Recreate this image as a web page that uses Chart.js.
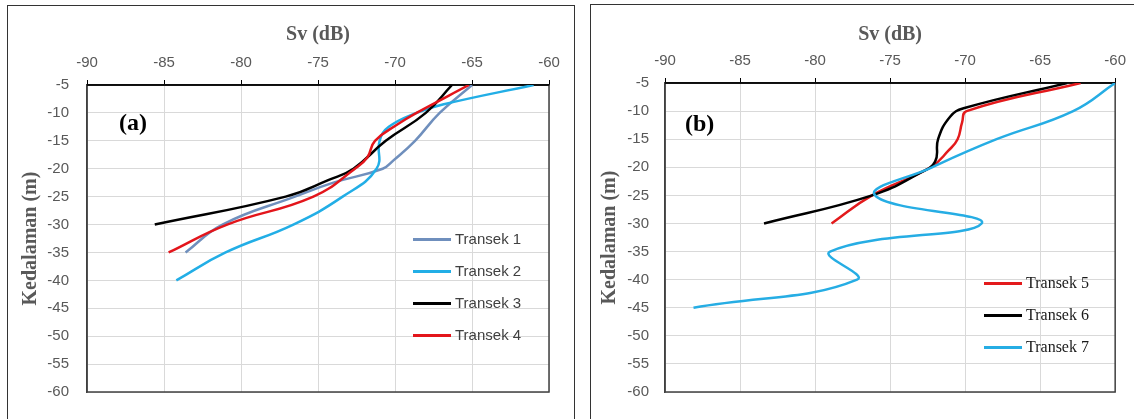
<!DOCTYPE html>
<html>
<head>
<meta charset="utf-8">
<script src="https://cdn.jsdelivr.net/npm/chart.js@4.4.1/dist/chart.umd.min.js"></script>
<style>
body { margin: 0; width: 1134px; height: 419px; overflow: hidden; background: #fff; position: relative; }
.panel { position: absolute; border: 1.5px solid #333; box-sizing: border-box; background: #fff; }
canvas { position: absolute; }
.tag { position: absolute; font-family: 'Liberation Serif', 'Times New Roman', serif; font-weight: bold; font-size: 24px; color: #000; line-height: 24px; }
.leg { position: absolute; height: 20px; line-height: 20px; white-space: nowrap; }
.leg span.ln { position: absolute; left: 0; top: 9px; width: 38px; height: 2.5px; }
.leg span.tx { position: absolute; left: 42px; top: 0; }
.legA { font-family: 'Liberation Sans', Arial, sans-serif; font-size: 15px; color: #404040; }
.legB { font-family: 'Liberation Serif', 'Times New Roman', serif; font-size: 16px; color: #1a1a1a; }
</style>
</head>
<body>
<div class="panel" style="left:7px; top:5px; width:568px; height:440px;"></div>
<div class="panel" style="left:590px; top:4px; width:560px; height:440px;"></div>
<canvas id="chartA" width="564" height="413" style="left:8px; top:6px;"></canvas>
<canvas id="chartB" width="543" height="414" style="left:591px; top:5px;"></canvas>
<div class="tag" style="left:119px; top:110px;">(a)</div>
<div class="tag" style="left:685px; top:111px;">(b)</div>
<div id="legendA"></div>
<div id="legendB"></div>
<script>
// depth ticks (m) and Sv ticks (dB)
var depthTicks = [-5, -10, -15, -20, -25, -30, -35, -40, -45, -50, -55, -60];
var svTicks = [-90, -85, -80, -75, -70, -65, -60];

// panel (a)
var depth1 = [-5, -10, -15, -18.5, -20, -22.5, -25, -30, -35];
var sv1 = [-65.0, -67.1, -68.7, -70.1, -70.8, -74.0, -76.5, -81.2, -83.6];
var depth2 = [-5, -8.5, -10, -12.5, -15, -20, -25, -30, -35, -40];
var sv2 = [-61.0, -66.9, -68.6, -70.4, -71.0, -71.2, -73.4, -76.6, -81.0, -84.2];
var depth3 = [-5, -10, -15, -20, -22, -25, -30];
var sv3 = [-66.3, -68.0, -70.6, -72.7, -74.3, -77.1, -85.6];
var depth4 = [-5, -10, -12, -15, -18, -20, -25, -30, -35];
var sv4 = [-65.2, -68.6, -69.8, -71.3, -71.8, -72.6, -75.3, -80.9, -84.7];

// panel (b)
var depth5 = [-5, -10, -12, -15, -17, -20, -25, -30];
var sv5 = [-62.3, -69.9, -70.2, -70.5, -71.1, -72.3, -76.2, -78.9];
var depth6 = [-5, -9.5, -11, -15, -19, -21, -25, -30];
var sv6 = [-63.2, -70.1, -71.0, -71.8, -72.0, -73.0, -76.2, -83.4];
var depth7 = [-5, -10, -15, -20, -25, -30, -35, -40, -45];
var sv7 = [-60.0, -62.8, -67.9, -72.2, -76.0, -68.9, -79.0, -77.2, -88.1];

var namesA = ['Transek 1', 'Transek 2', 'Transek 3', 'Transek 4'];
var colorsA = ['#6f8fbd', '#22aee6', '#000000', '#e3151b'];
var namesB = ['Transek 5', 'Transek 6', 'Transek 7'];
var colorsB = ['#e31a1c', '#000000', '#26ade4'];

function toPoints(sv, depth) {
    var pts = [];
    for (let i = 0; i < sv.length; i++) {
        pts.push({x: sv[i], y: depth[i]});
    }
    return pts;
}

function makeSet(label, color, sv, depth, order) {
    return {label: label, data: toPoints(sv, depth), borderColor: color, backgroundColor: color,
        borderWidth: 2.5, pointRadius: 0, showLine: true, tension: 0.45, order: order};
}

const frame = {
    id: 'frame',
    beforeDatasetsDraw(chart) {
        const a = chart.chartArea;
        const ctx = chart.ctx;
        ctx.save();
        ctx.strokeStyle = '#404040';
        ctx.lineWidth = 1.5;
        ctx.strokeRect(a.left, a.top, a.right - a.left, a.bottom - a.top);
        ctx.strokeStyle = '#000';
        ctx.beginPath();
        ctx.moveTo(a.left, a.top);
        ctx.lineTo(a.right, a.top);
        ctx.stroke();
        ctx.restore();
    }
};

function plotgraph(id, datasets, opt) {
    const ctx = document.getElementById(id).getContext('2d');
    return new Chart(ctx, {
        type: 'scatter',
        data: {datasets: datasets},
        plugins: [frame],
        options: {
            responsive: false,
            animation: false,
            devicePixelRatio: 1,
            layout: {padding: {left: 0, top: 0, right: opt.padRight, bottom: opt.padBottom}},
            plugins: {legend: {display: false}, tooltip: {enabled: false}},
            scales: {
                x: {
                    type: 'linear', position: 'top', min: -90, max: -60,
                    afterBuildTicks: (s) => { s.ticks = svTicks.map(v => ({value: v})); },
                    afterFit: (s) => { s.height = opt.xHeight; },
                    grid: {color: '#d9d9d9', lineWidth: 1, drawTicks: true, tickLength: 5, tickColor: '#000'},
                    border: {display: true, color: '#000', width: 1.5},
                    ticks: {padding: 8, color: '#595959', font: {family: "'Liberation Sans', Arial, sans-serif", size: 15}},
                    title: {display: true, text: 'Sv (dB)', color: '#595959', padding: {top: opt.xTitlePad, bottom: 0},
                        font: {family: "'Liberation Serif', 'Times New Roman', serif", size: 20, weight: 'bold'}}
                },
                y: {
                    type: 'linear', position: 'left', min: -60, max: -5,
                    afterBuildTicks: (s) => { s.ticks = depthTicks.map(v => ({value: v})); },
                    afterFit: (s) => { s.width = opt.yWidth; },
                    grid: {color: '#d9d9d9', lineWidth: 1, drawTicks: false},
                    border: {display: true, color: '#404040', width: 1.5},
                    ticks: {padding: opt.yTickPad, color: '#595959', font: {family: "'Liberation Sans', Arial, sans-serif", size: 15}},
                    title: {display: true, text: 'Kedalaman (m)', color: '#595959', padding: {top: opt.yTitlePad, bottom: 0},
                        font: {family: "'Liberation Serif', 'Times New Roman', serif", size: 20, weight: 'bold'}}
                }
            }
        }
    });
}

function populateLegend(id, names, colors, left, rows, cls) {
    var box = document.getElementById(id);
    for (let i = 0; i < names.length; i++) {
        var row = document.createElement('div');
        row.className = 'leg ' + cls;
        row.style.left = left + 'px';
        row.style.top = (rows[i] - 10) + 'px';
        row.innerHTML = '<span class="ln" style="background:' + colors[i] + '"></span><span class="tx">' + names[i] + '</span>';
        box.appendChild(row);
    }
}

plotgraph('chartA', [
    makeSet(namesA[0], colorsA[0], sv1, depth1, 4),
    makeSet(namesA[1], colorsA[1], sv2, depth2, 3),
    makeSet(namesA[2], colorsA[2], sv3, depth3, 2),
    makeSet(namesA[3], colorsA[3], sv4, depth4, 1)
], {padRight: 23, padBottom: 23, xHeight: 79, yWidth: 79, xTitlePad: 17, yTitlePad: 11, yTickPad: 18});

plotgraph('chartB', [
    makeSet(namesB[0], colorsB[0], sv5, depth5, 3),
    makeSet(namesB[1], colorsB[1], sv6, depth6, 2),
    makeSet(namesB[2], colorsB[2], sv7, depth7, 1)
], {padRight: 18, padBottom: 27, xHeight: 78, yWidth: 74, xTitlePad: 18, yTitlePad: 7, yTickPad: 16});

populateLegend('legendA', namesA, colorsA, 413, [239, 271, 303, 335], 'legA');
populateLegend('legendB', namesB, colorsB, 984, [283, 315, 347], 'legB');
</script>
</body>
</html>
